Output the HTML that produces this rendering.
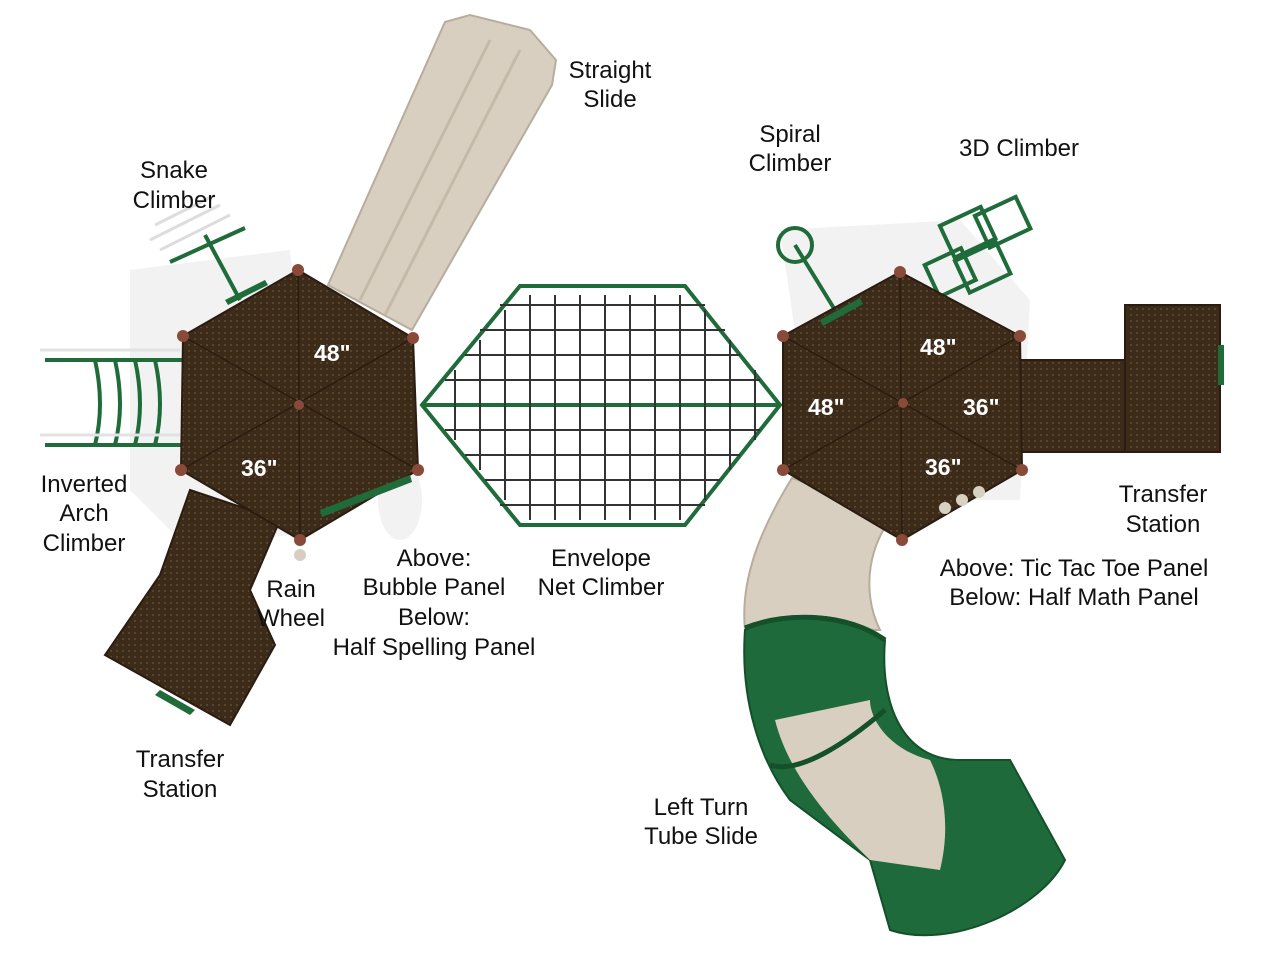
<!DOCTYPE html>
<html><head><meta charset="utf-8"><style>
html,body{margin:0;padding:0;background:#fff;width:1279px;height:960px;overflow:hidden}
svg{display:block}
text{font-family:"Liberation Sans",sans-serif;font-size:24px;fill:#111}
.w{fill:#fff;font-weight:bold;font-size:23px}
</style></head><body>
<svg width="1279" height="960" viewBox="0 0 1279 960">
<defs>
<pattern id="dots" width="6" height="6" patternUnits="userSpaceOnUse"><rect width="6" height="6" fill="#3d2b1a"/><circle cx="3" cy="3" r="0.9" fill="#6b5438"/></pattern>
</defs>
<!-- shadows -->
<g fill="#f2f2f2">
<polygon points="130,270 290,250 320,530 190,550 130,490"/>
<polygon points="780,230 960,220 1030,300 1020,500 820,500"/>
<ellipse cx="400" cy="500" rx="22" ry="40"/>
</g>
<!-- straight slide -->
<polygon points="328,285 412,330 552,85 556,60 530,30 470,15 445,22" fill="#d8cfc0" stroke="#b8ad9c" stroke-width="2"/>
<line x1="360" y1="300" x2="490" y2="40" stroke="#c5baa8" stroke-width="3"/>
<line x1="385" y1="315" x2="520" y2="50" stroke="#c5baa8" stroke-width="3"/>
<!-- snake climber -->
<g stroke="#1f6b3a" stroke-width="4" fill="none">
<line x1="240" y1="300" x2="205" y2="235"/>
<line x1="170" y1="262" x2="245" y2="228"/>
</g>
<g stroke="#ddd" stroke-width="3" fill="none"><path d="M150,240 l70,-35 M160,250 l70,-35 M155,225 l60,-30"/></g>
<!-- inverted arch -->
<g stroke="#1f6b3a" stroke-width="4" fill="none">
<line x1="45" y1="360" x2="185" y2="360"/>
<line x1="45" y1="445" x2="185" y2="445"/>
<path d="M95,360 q10,45 0,85 M115,360 q10,45 0,85 M135,360 q10,45 0,85 M155,360 q10,45 0,85"/>
</g>
<g stroke="#e2e2e2" stroke-width="3" fill="none"><line x1="40" y1="350" x2="180" y2="350"/><line x1="40" y1="435" x2="180" y2="435"/></g>
<!-- left transfer station -->
<polygon points="190,490 280,520 250,590 275,645 230,725 105,655 160,575" fill="url(#dots)" stroke="#2a1c10" stroke-width="2"/>
<polygon points="160,690 195,710 190,715 155,695" fill="#1f6b3a"/>
<!-- left hexagon -->
<polygon points="298,270 413,338 418,470 300,540 181,470 183,336" fill="url(#dots)" stroke="#2a1c10" stroke-width="2"/>
<g stroke="#2a1c10" stroke-width="1.5"><line x1="298" y1="270" x2="300" y2="540"/><line x1="183" y1="336" x2="418" y2="470"/><line x1="413" y1="338" x2="181" y2="470"/></g>
<g fill="#8a4a3a"><circle cx="298" cy="270" r="6"/><circle cx="413" cy="338" r="6"/><circle cx="418" cy="470" r="6"/><circle cx="300" cy="540" r="6"/><circle cx="181" cy="470" r="6"/><circle cx="183" cy="336" r="6"/><circle cx="299" cy="405" r="5"/></g>
<polygon points="225,300 265,280 268,285 228,305" fill="#1f6b3a"/>
<polygon points="320,510 410,475 412,482 322,517" fill="#1f6b3a"/>
<text class="w" x="314" y="361">48"</text>
<text class="w" x="241" y="476">36"</text>
<circle cx="300" cy="555" r="6" fill="#d8cfc0"/>
<!-- net climber -->
<g stroke="#1f6b3a" stroke-width="4" fill="none">
<polygon points="422,405 520,286 685,286 780,405 685,525 520,525"/>
<line x1="422" y1="405" x2="780" y2="405"/>
</g>
<g stroke="#333" stroke-width="2" fill="none">
<path d="M530,295 V520 M555,295 V520 M580,295 V520 M605,295 V520 M630,295 V520 M655,295 V520 M680,295 V520 M505,310 V500 M705,310 V500 M480,340 V470 M730,340 V470 M455,370 V440 M755,370 V440"/>
<path d="M500,305 H705 M480,330 H725 M465,355 H740 M445,380 H760 M445,430 H760 M465,455 H740 M485,480 H720 M500,505 H705"/>
</g>
<!-- tube slide -->
<path d="M792,478 C760,530 740,580 745,630 L880,630 C860,590 870,540 895,515 Z" fill="#d8cfc0" stroke="#b8ad9c" stroke-width="2"/>
<path d="M745,630 C740,700 760,760 790,800 L870,860 L890,930 C950,950 1040,910 1065,860 L1010,760 L960,760 C900,760 880,700 885,640 C850,610 780,610 745,630Z" fill="#1e6a3a" stroke="#14502a" stroke-width="2"/>
<path d="M775,720 C790,780 840,830 870,860 L940,870 C950,830 945,790 930,760 C890,750 870,720 870,700 Z" fill="#d8cfc0"/>
<path d="M745,628 C790,610 850,615 885,640" stroke="#14502a" stroke-width="5" fill="none"/>
<path d="M770,765 C800,775 850,740 885,710" stroke="#14502a" stroke-width="5" fill="none"/>
<!-- spiral climber -->
<circle cx="795" cy="245" r="17" fill="none" stroke="#1f6b3a" stroke-width="4"/>
<line x1="795" y1="245" x2="835" y2="310" stroke="#1f6b3a" stroke-width="4"/>
<!-- 3D climber -->
<g stroke="#1f6b3a" stroke-width="4" fill="none">
<rect x="945" y="215" width="45" height="35" transform="rotate(-25 967 232)"/>
<rect x="980" y="205" width="45" height="35" transform="rotate(-25 1002 222)"/>
<rect x="960" y="250" width="45" height="35" transform="rotate(-25 982 267)"/>
<rect x="930" y="255" width="40" height="35" transform="rotate(-25 950 272)"/>
</g>
<!-- right transfer station -->
<rect x="1020" y="360" width="110" height="92" fill="url(#dots)" stroke="#2a1c10" stroke-width="2"/>
<rect x="1125" y="305" width="95" height="147" fill="url(#dots)" stroke="#2a1c10" stroke-width="2"/>
<rect x="1218" y="345" width="6" height="40" fill="#1f6b3a"/>
<!-- right hexagon -->
<polygon points="900,272 1020,336 1022,470 902,540 783,470 783,336" fill="url(#dots)" stroke="#2a1c10" stroke-width="2"/>
<g stroke="#2a1c10" stroke-width="1.5"><line x1="900" y1="272" x2="902" y2="540"/><line x1="783" y1="336" x2="1022" y2="470"/><line x1="1020" y1="336" x2="783" y2="470"/></g>
<g fill="#8a4a3a"><circle cx="900" cy="272" r="6"/><circle cx="1020" cy="336" r="6"/><circle cx="1022" cy="470" r="6"/><circle cx="902" cy="540" r="6"/><circle cx="783" cy="470" r="6"/><circle cx="783" cy="336" r="6"/><circle cx="903" cy="403" r="5"/></g>
<polygon points="820,320 860,298 863,304 823,326" fill="#1f6b3a"/>
<g fill="#d8d0c0"><circle cx="945" cy="508" r="6"/><circle cx="962" cy="500" r="6"/><circle cx="979" cy="492" r="6"/></g>
<text class="w" x="920" y="355">48"</text>
<text class="w" x="808" y="415">48"</text>
<text class="w" x="963" y="415">36"</text>
<text class="w" x="925" y="475">36"</text>
<!-- labels -->
<g text-anchor="middle">
<text x="610" y="78">Straight</text><text x="610" y="107">Slide</text>
<text x="174" y="178">Snake</text><text x="174" y="208">Climber</text>
<text x="790" y="142">Spiral</text><text x="790" y="171">Climber</text>
<text x="1019" y="156">3D Climber</text>
<text x="84" y="492">Inverted</text><text x="84" y="521">Arch</text><text x="84" y="551">Climber</text>
<text x="291" y="597">Rain</text><text x="291" y="626">Wheel</text>
<text x="434" y="566">Above:</text><text x="434" y="595">Bubble Panel</text><text x="434" y="625">Below:</text><text x="434" y="655">Half Spelling Panel</text>
<text x="601" y="566">Envelope</text><text x="601" y="595">Net Climber</text>
<text x="1163" y="502">Transfer</text><text x="1163" y="532">Station</text>
<text x="1074" y="576">Above: Tic Tac Toe Panel</text><text x="1074" y="605">Below: Half Math Panel</text>
<text x="180" y="767">Transfer</text><text x="180" y="797">Station</text>
<text x="701" y="815">Left Turn</text><text x="701" y="844">Tube Slide</text>
</g>
</svg>
</body></html>
